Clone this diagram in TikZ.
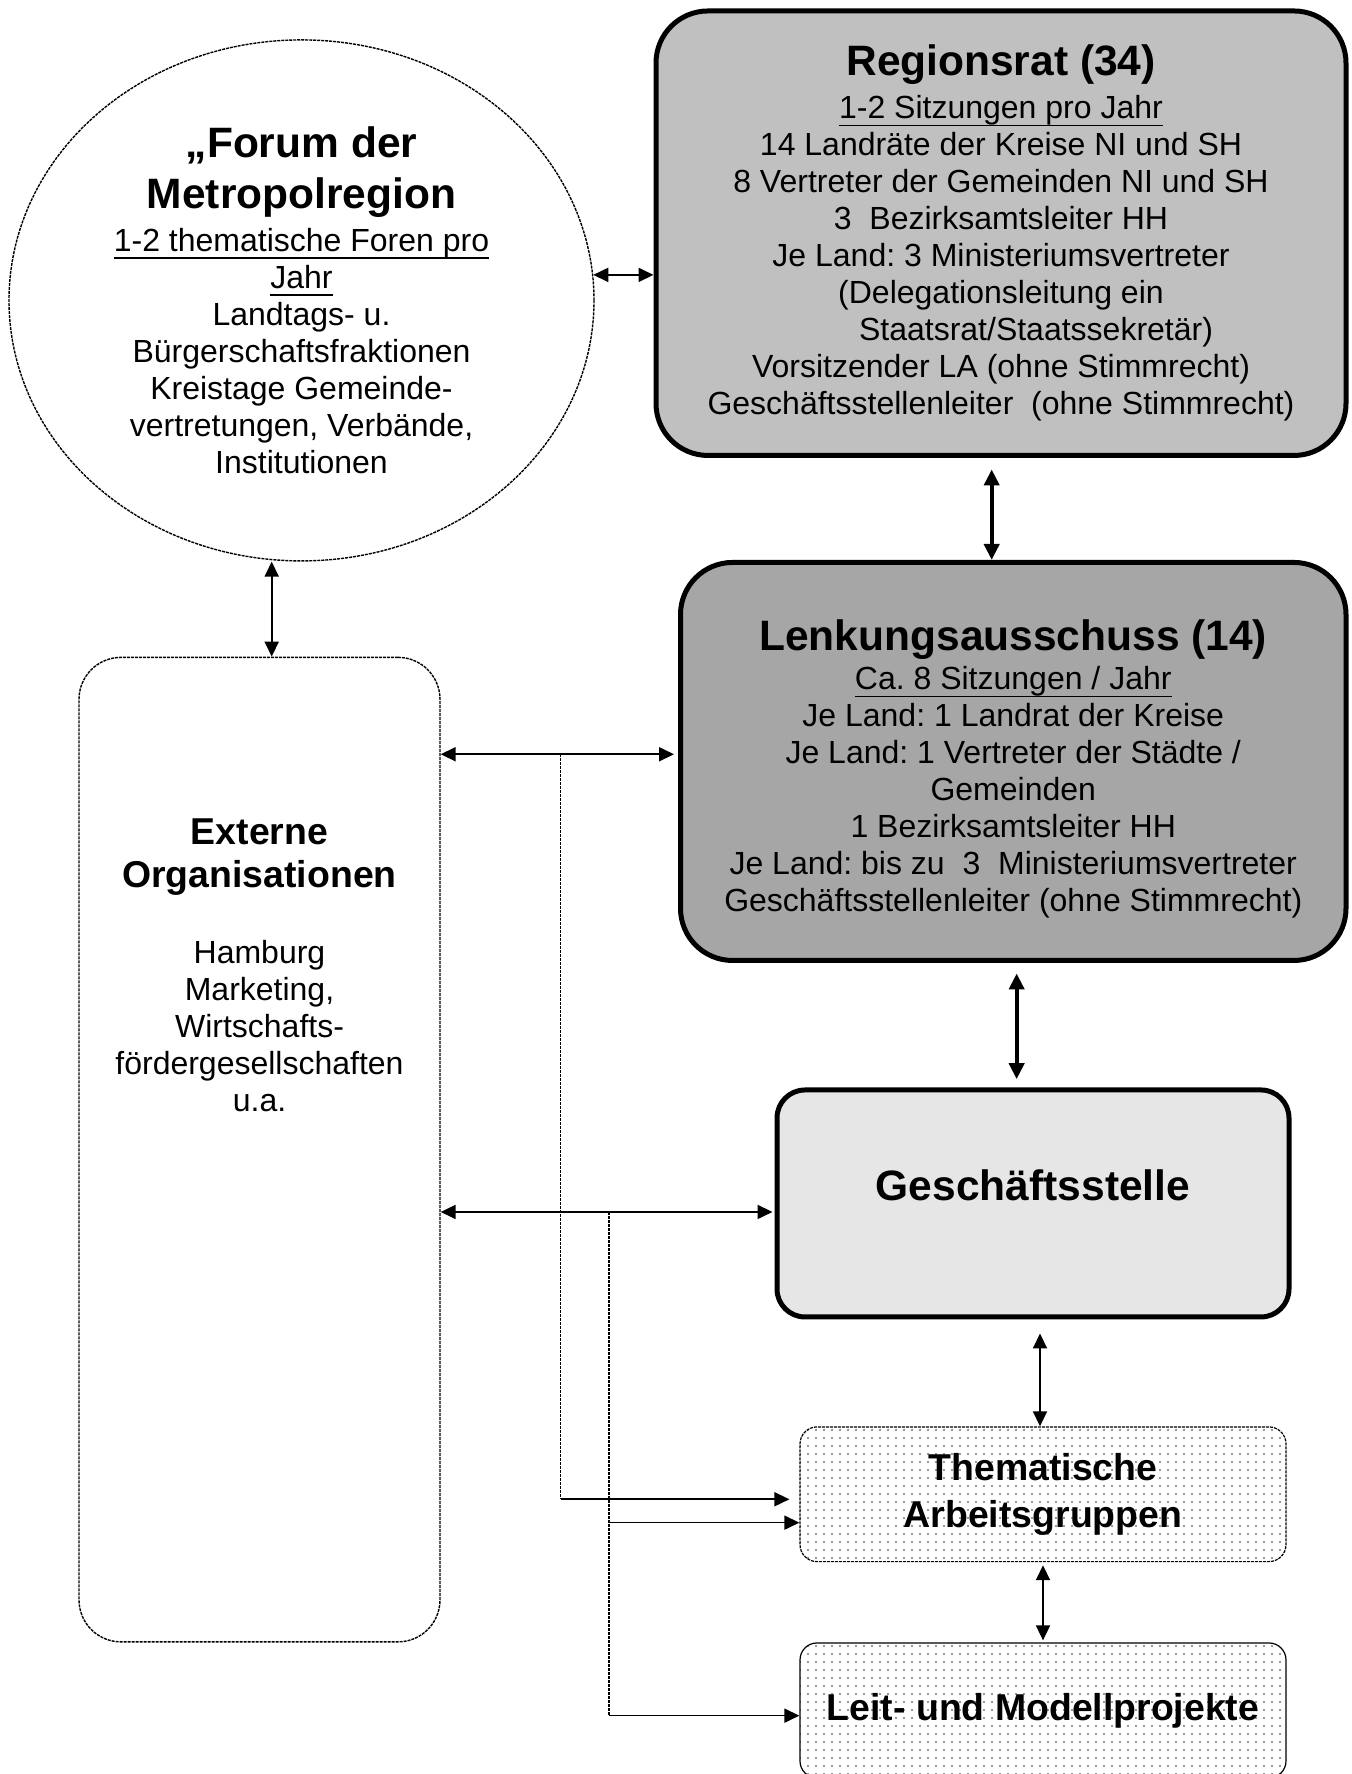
\documentclass[tikz,border=0pt]{standalone}
\usepackage{fontspec}
\setmainfont{Liberation Sans}
\usepackage{tikz}
\usetikzlibrary{arrows.meta, shapes.geometric, patterns, positioning}
\frenchspacing

\definecolor{ratgray}{RGB}{192,192,192}
\definecolor{lagray}{RGB}{166,166,166}
\definecolor{gsgray}{RGB}{230,230,230}

\pgfdeclarepatternformonly{finedots}{\pgfqpoint{-1pt}{-1pt}}{\pgfqpoint{1pt}{1pt}}{\pgfqpoint{4pt}{4pt}}%
{\pgfpathcircle{\pgfqpoint{0pt}{0pt}}{0.55pt}\pgfusepath{fill}}

\newcommand{\bigtitle}{\fontsize{21.25pt}{24pt}\bfseries\selectfont}
\newcommand{\midtitle}{\fontsize{18.7pt}{21.5pt}\bfseries\selectfont}
\newcommand{\bodytext}{\fontsize{16pt}{18.5pt}\selectfont}
\newcommand{\ulined}[1]{\setbox0=\hbox{#1}\rlap{\rule[-3.8pt]{\wd0}{0.8pt}}\box0}

\tikzset{
    boardnode/.style = {draw, rectangle, rounded corners=26pt, line width=2.5pt, inner sep=0pt,
      node distance=0em, align=center, font=\bodytext},
    officenode/.style = {draw, rectangle, rounded corners=14pt, line width=2.5pt, fill=gsgray,
      inner sep=0pt, node distance=0em},
    groupnode/.style = {draw, rectangle, rounded corners=8.5pt, line width=0.6pt, pattern=finedots,
      pattern color=black!55, inner sep=0pt, node distance=0em, align=center, font=\midtitle},
    forumnode/.style = {draw, ellipse, line width=0.7pt, dash pattern=on 1.5pt off 0.5pt,
      inner sep=0pt, node distance=0em, align=center, font=\bodytext},
    extnode/.style = {draw, rectangle, rounded corners=21pt, line width=0.7pt,
      dash pattern=on 1.5pt off 0.5pt, inner sep=0pt, node distance=0em},
    textnode/.style = {draw=none, fill=none, rectangle, inner sep=0em, node distance=0em, align=center},
    thickarrow/.style = {line width=2pt, >={Triangle[length=8pt,width=7.5pt]}, <->},
    thinarrow/.style = {line width=0.9pt, >={Triangle[length=7.5pt,width=7pt]}, <->},
    oneway/.style = {line width=0.8pt, >={Triangle[length=7.5pt,width=7pt]}, ->},
    dotline/.style = {line width=0.7pt, dash pattern=on 1.5pt off 0.5pt}
}

\begin{document}
\begin{tikzpicture}
    \useasboundingbox (0,0) rectangle (675.5pt,-887pt);

    \node [name=RAT, boardnode, fill=ratgray, minimum width=345pt, minimum height=222.25pt] at (500.5pt,-116.6pt)
      {{\bigtitle Regionsrat (34)}\\[3pt]
       \ulined{1-2 Sitzungen pro Jahr}\\
       14 Landräte der Kreise NI und SH\\
       8 Vertreter der Gemeinden NI und SH\\
       3~ Bezirksamtsleiter HH\\
       Je Land: 3 Ministeriumsvertreter\\
       (Delegationsleitung ein\\
       \hspace*{35pt}Staatsrat/Staatssekretär)\\
       Vorsitzender LA (ohne Stimmrecht)\\
       Geschäftsstellenleiter~ (ohne Stimmrecht)};

    \node [name=FORUM, forumnode, left of = RAT, xshift=-349.75pt, yshift=-33.6pt,
      minimum width=292.5pt, minimum height=260.5pt]
      {{\bigtitle „Forum der}\\[5.5pt]
       {\bigtitle Metropolregion}\\[3pt]
       \ulined{1-2 thematische Foren pro}\\
       \ulined{Jahr}\\
       Landtags- u.\\
       Bürgerschaftsfraktionen\\
       Kreistage Gemeinde-\\
       vertretungen, Verbände,\\
       Institutionen};

    \node [name=LA, boardnode, fill=lagray, below of = RAT, xshift=6.125pt, yshift=-264.125pt,
      minimum width=332.75pt, minimum height=199pt]
      {\rule{0pt}{23pt}{\bigtitle Lenkungsausschuss (14)}\\[1pt]
       \ulined{Ca. 8 Sitzungen / Jahr}\\
       Je Land: 1 Landrat der Kreise\\
       Je Land: 1 Vertreter der Städte /\\
       Gemeinden\\
       1 Bezirksamtsleiter HH\\
       Je Land: bis zu~ 3~ Ministeriumsvertreter\\
       Geschäftsstellenleiter (ohne Stimmrecht)};

    \node [name=GS, officenode, below of = LA, xshift=9.875pt, yshift=-221pt,
      minimum width=256pt, minimum height=113.5pt] {};
    \node [name=GStext, textnode, above of = GS, yshift=9pt, font=\bigtitle] {Geschäftsstelle};

    \node [name=TAG, groupnode, below of = GS, xshift=5pt, yshift=-145.4pt,
      minimum width=243pt, minimum height=67.35pt, dash pattern=on 1.5pt off 0.5pt]
      {Thematische\\[2.25pt]Arbeitsgruppen};
    \node [name=LMP, groupnode, below of = TAG, yshift=-108.1pt,
      minimum width=243pt, minimum height=67.5pt] {Leit- und Modellprojekte};

    \node [name=EXT, extnode, below of = FORUM, xshift=-21pt, yshift=-424.6pt,
      minimum width=180.5pt, minimum height=492.25pt] {};
    \node [name=EXTtitle, textnode, above of = EXT, yshift=146.3pt, font=\midtitle]
      {Externe\\Organisationen};
    \node [name=EXTtext, textnode, above of = EXT, yshift=61.6pt, font=\bodytext]
      {Hamburg\\Marketing,\\Wirtschafts-\\fördergesellschaften\\u.a.};

    \coordinate (RATout) at ([xshift=-4.65pt]RAT.south);
    \coordinate (LAout) at ([xshift=1.7pt]LA.south);
    \coordinate (GSout) at ([xshift=3.5pt]GS.south);
    \coordinate (EXTup) at ([xshift=6.1pt]EXT.north);
    \coordinate (LAin) at ([yshift=3.6pt]LA.west);
    \coordinate (GSin) at ([yshift=-4.25pt]GS.west);
    \coordinate (EXTa) at (LAin -| EXT.east);
    \coordinate (EXTb) at (GSin -| EXT.east);
    \coordinate (J1) at ([xshift=60pt]EXTa);
    \coordinate (J2) at ([xshift=84.15pt]EXTb);
    \coordinate (TAGin1) at ([xshift=-5pt, yshift=-2.5pt]TAG.west);
    \coordinate (TAGin2) at ([yshift=-14.2pt]TAG.west);
    \coordinate (LMPin) at ([yshift=-2.6pt]LMP.west);

    \draw (FORUM.5) edge[thinarrow] (FORUM.5 -| RAT.west);
    \draw (RATout) edge[thickarrow, shorten <=5.75pt] (RATout |- LA.north);
    \draw (LAout) edge[thickarrow, shorten <=5.25pt, shorten >=4.15pt] (LAout |- GS.north);
    \draw (GSout) edge[thinarrow, shorten <=7pt] (GSout |- TAG.north);
    \draw (TAG.south) edge[thinarrow, shorten <=1.5pt, shorten >=1pt] (LMP.north);
    \draw (EXTup) edge[thinarrow] (EXTup |- FORUM.south);

    \draw (EXTa) edge[thinarrow, shorten >=2pt] (LAin);
    \draw (EXTb) edge[thinarrow, shorten >=1pt] (GSin);
    \draw[dotline] (J1) -- (J1 |- TAGin1);
    \draw (J1 |- TAGin1) edge[oneway] (TAGin1);
    \draw[dotline] (J2) -- (J2 |- LMPin);
    \draw (J2 |- TAGin2) edge[oneway] (TAGin2);
    \draw (J2 |- LMPin) edge[oneway] (LMPin);
\end{tikzpicture}
\end{document}
